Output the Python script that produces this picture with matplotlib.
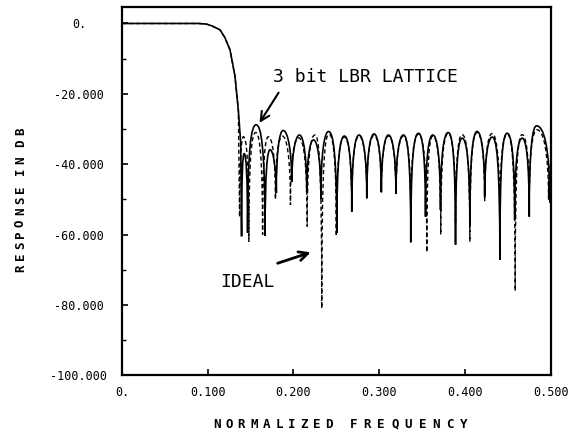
import matplotlib
matplotlib.use("Agg")
import matplotlib.pyplot as plt
from matplotlib.path import Path
from matplotlib.patches import PathPatch
from matplotlib.ticker import MultipleLocator, FixedFormatter, FixedLocator

# passband + transition (same for both curves)
pass_freq = [0.0, 0.090, 0.0988, 0.105, 0.1143, 0.120, 0.126, 0.1318, 0.1357, 0.1385]
pass_db = [0.0, 0.0, -0.2, -0.7, -1.8, -4.0, -7.5, -15.0, -24.6, -34.0]

# stopband of the 3 bit LBR lattice (solid), alternating null / peak
lbr_freq = [0.1395, 0.1425, 0.1465, 0.1564, 0.1669, 0.1727, 0.1800, 0.1880,
            0.1980, 0.2070, 0.2155, 0.2233, 0.2320, 0.2410, 0.2505, 0.2594,
            0.2680, 0.2765, 0.2855, 0.2940, 0.3025, 0.3108, 0.3195, 0.3282,
            0.3368, 0.3458, 0.3540, 0.3625, 0.3715, 0.3804, 0.3890, 0.3967,
            0.4057, 0.4142, 0.4230, 0.4317, 0.4407, 0.4492, 0.4580, 0.4667,
            0.4750, 0.4835, 0.4990]
lbr_db = [-60.5, -37.0, -59.5, -28.8, -60.4, -35.9, -48.2, -30.4,
          -45.0, -31.7, -48.0, -33.1, -50.0, -30.7, -59.5, -32.0,
          -53.5, -31.7, -49.7, -31.4, -47.9, -31.7, -48.4, -31.7,
          -62.2, -31.2, -54.9, -31.7, -53.0, -31.0, -62.9, -32.6,
          -57.7, -30.7, -49.2, -32.3, -67.2, -31.2, -55.8, -32.6,
          -54.9, -29.1, -51.0]

# stopband of the ideal (infinite precision) filter, dashed
ideal_freq = [0.1372, 0.1416, 0.1480, 0.1560, 0.1640, 0.1708, 0.1790, 0.1870,
              0.1965, 0.2060, 0.2160, 0.2250, 0.2330, 0.2415, 0.2500, 0.2594,
              0.2680, 0.2765, 0.2855, 0.2940, 0.3025, 0.3108, 0.3195, 0.3282,
              0.3368, 0.3458, 0.3555, 0.3625, 0.3718, 0.3804, 0.3890, 0.3967,
              0.4057, 0.4142, 0.4230, 0.4317, 0.4407, 0.4492, 0.4586, 0.4667,
              0.4750, 0.4840, 0.4975, 0.5000]
ideal_db = [-55.0, -32.2, -62.0, -31.0, -60.0, -32.2, -50.0, -32.0,
            -51.6, -32.5, -57.7, -31.7, -81.0, -31.5, -60.5, -32.3,
            -53.0, -32.0, -49.0, -31.8, -48.0, -32.0, -48.5, -32.0,
            -55.0, -31.5, -65.0, -32.0, -60.0, -31.3, -57.0, -31.6,
            -62.0, -31.0, -50.5, -31.3, -57.0, -31.5, -76.0, -31.6,
            -51.0, -30.2, -50.0, -40.0]

x_ticks = [0.0, 0.1, 0.2, 0.3, 0.4, 0.5]
x_labels = ["0.", "0.100", "0.200", "0.300", "0.400", "0.500"]
y_ticks = [0, -20, -40, -60, -80, -100]
y_labels = ["0.", "-20.000", "-40.000", "-60.000", "-80.000", "-100.000"]

MONO = "DejaVu Sans Mono"


def response_path(pf, pd, n_pass, sf, sd):
    """passband as straight segments, stopband lobes as cubic curves"""
    verts = list(zip(pf[:n_pass], pd[:n_pass]))
    codes = [Path.MOVETO] + [Path.LINETO] * (len(verts) - 1)
    verts.append((sf[0], sd[0]))
    codes.append(Path.LINETO)
    for i in range(1, len(sf)):
        f0, d0 = sf[i - 1], sd[i - 1]
        f1, d1 = sf[i], sd[i]
        w = f1 - f0
        if d1 > d0:
            c1 = (f0, max(d0, d1 - 6))
            c2 = (f1 - 0.55 * w, d1)
        else:
            c1 = (f0 + 0.55 * w, d0)
            c2 = (f1, max(d1, d0 - 6))
        verts += [c1, c2, (f1, d1)]
        codes += [Path.CURVE4] * 3
    return Path(verts, codes)


fig = plt.figure(figsize=(5.74, 4.36), dpi=100)
ax = fig.add_axes([0.2125, 0.1392, 0.7469, 0.8436])

solid = response_path(pass_freq, pass_db, len(pass_freq), lbr_freq, lbr_db)
ax.add_patch(PathPatch(solid, fill=False, edgecolor="black", lw=1.2))
dashed = response_path(pass_freq, pass_db, len(pass_freq) - 1, ideal_freq, ideal_db)
ax.add_patch(PathPatch(dashed, fill=False, edgecolor="black", lw=1.0,
                       linestyle=(0, (3, 2))))

ax.set_xlim(0, 0.5)
ax.set_ylim(-100, 4.54)

ax.xaxis.set_major_locator(FixedLocator(x_ticks))
ax.xaxis.set_major_formatter(FixedFormatter(x_labels))
ax.yaxis.set_major_locator(FixedLocator(y_ticks))
ax.yaxis.set_major_formatter(FixedFormatter(y_labels))
ax.yaxis.set_minor_locator(MultipleLocator(10))
ax.tick_params(direction="in", length=4, width=1.2)
ax.tick_params(which="minor", direction="in", length=3, width=1.0)
ax.tick_params(axis="x", pad=8)
ax.tick_params(axis="y", pad=31)
for lab in ax.get_xticklabels() + ax.get_yticklabels():
    lab.set_fontfamily(MONO)
    lab.set_fontsize(8.5)
for lab in ax.get_yticklabels():
    lab.set_horizontalalignment("center")
for sp in ax.spines.values():
    sp.set_linewidth(1.6)

# annotations
ax.text(0.176, -15.3, "3 bit LBR LATTICE", family=MONO, fontsize=13,
        ha="left", va="center")
ax.annotate("", xy=(0.1587, -28.9), xytext=(0.1844, -19.0),
            arrowprops=dict(arrowstyle="->", lw=1.5, color="black",
                            mutation_scale=16))
ax.text(0.1144, -73.6, "IDEAL", family=MONO, fontsize=13,
        ha="left", va="center")
ax.annotate("", xy=(0.2232, -64.8), xytext=(0.1785, -68.4),
            arrowprops=dict(arrowstyle="->", lw=2.0, color="black",
                            mutation_scale=16))

# letter-spaced axis titles, placed letter by letter like the plotter did
W, H = 574.0, 436.0
x = 216.5
for word, pitch in (("NORMALIZED", 12.5), ("FREQUENCY", 13.75)):
    for ch in word:
        fig.text(x / W, 1 - 424 / H, ch, family=MONO, weight="bold",
                 fontsize=9, ha="center", va="center")
        x += pitch
    x = 353.5

y = 268.0
for word in ("RESPONSE", "IN", "DB"):
    for ch in word:
        fig.text(20.5 / W, 1 - y / H, ch, family=MONO, weight="bold",
                 fontsize=9, ha="center", va="center", rotation=90)
        y -= 11.3
    y -= 6.0

fig.savefig("out.png", dpi=100)
